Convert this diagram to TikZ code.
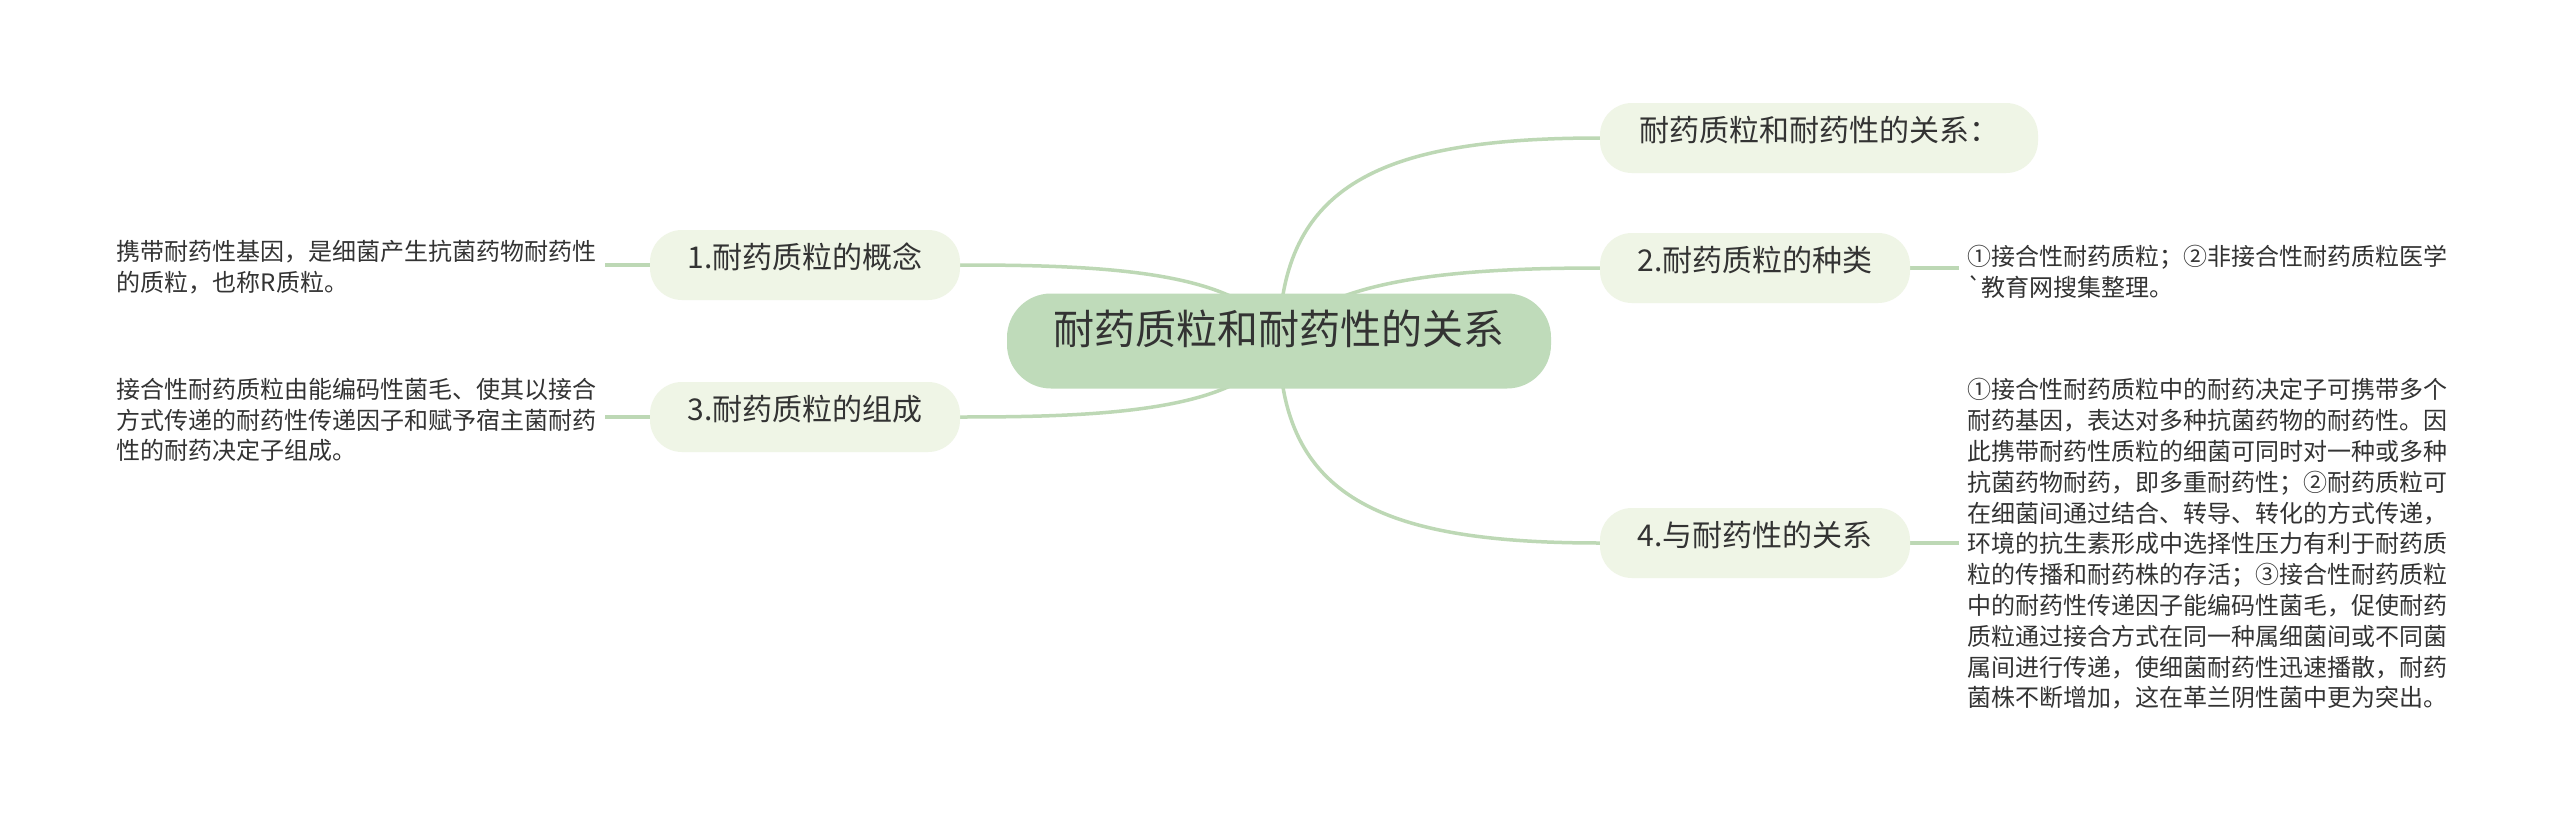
\documentclass[tikz,border=0pt]{standalone}
\usepackage{fontspec}
\newfontfamily\cjk{Noto Sans CJK SC}[Ligatures=TeXOff]
\usetikzlibrary{positioning}
\definecolor{rootfill}{HTML}{BFDBBA}
\definecolor{brfill}{HTML}{EFF5E6}
\definecolor{linkc}{HTML}{BDD8B5}
\definecolor{txt}{HTML}{333333}
\pgfdeclarelayer{back}
\pgfdeclarelayer{bg}
\pgfsetlayers{back,bg,main}
\begin{document}
\begin{tikzpicture}[x=1pt,y=-1pt,
  rootbox/.style={draw=none,fill=rootfill,rounded corners=44pt,minimum width=544pt,minimum height=95pt,
    inner xsep=0pt,inner ysep=0pt,text=txt,font=\cjk\fontsize{41}{48}\selectfont,text height=0.88em,text depth=0.12em},
  brbox/.style={draw=none,fill=brfill,rounded corners=32pt,minimum width=310pt,minimum height=70pt,
    inner xsep=0pt,inner ysep=0pt,text=txt,font=\cjk\fontsize{30}{36}\selectfont,text height=0.88em,text depth=0.12em},
  leafbox/.style={draw=none,inner xsep=8pt,inner ysep=4pt,align=left,text=txt,font=\cjk\fontsize{24}{30.8}\selectfont},
  link/.style={draw=linkc,line width=3.5pt},
]
\useasboundingbox (0,0) rectangle (2560,827);
\begin{pgfonlayer}{back}
\fill[white] (0,0) rectangle (2560,827);
\end{pgfonlayer}

\node[rootbox] (root) at (1279,341) {耐药质粒和耐药性的关系};

\node[brbox] (n1) at (805,265) {1.耐药质粒的概念};
\node[brbox] (n3) at (805,417) {3.耐药质粒的组成};
\node[brbox,minimum width=438pt] (n0) at (1819,138) {耐药质粒和耐药性的关系：};
\node[brbox] (n2) at (1755,268) {2.耐药质粒的种类};
\node[brbox] (n4) at (1755,543) {4.与耐药性的关系};

\node[leafbox,anchor=east] (l1) at (605,267) {携带耐药性基因，是细菌产生抗菌药物耐药性\\的质粒，也称R质粒。};
\node[leafbox,anchor=east] (l3) at (605,420) {接合性耐药质粒由能编码性菌毛、使其以接合\\方式传递的耐药性传递因子和赋予宿主菌耐药\\性的耐药决定子组成。};
\node[leafbox,anchor=west] (l2) at (1959,272) {①接合性耐药质粒；②非接合性耐药质粒医学\\`教育网搜集整理。};
\node[leafbox,anchor=west] (l4) at (1959,544) {①接合性耐药质粒中的耐药决定子可携带多个\\耐药基因，表达对多种抗菌药物的耐药性。因\\此携带耐药性质粒的细菌可同时对一种或多种\\抗菌药物耐药，即多重耐药性；②耐药质粒可\\在细菌间通过结合、转导、转化的方式传递，\\环境的抗生素形成中选择性压力有利于耐药质\\粒的传播和耐药株的存活；③接合性耐药质粒\\中的耐药性传递因子能编码性菌毛，促使耐药\\质粒通过接合方式在同一种属细菌间或不同菌\\属间进行传递，使细菌耐药性迅速播散，耐药\\菌株不断增加，这在革兰阴性菌中更为突出。};

\begin{pgfonlayer}{bg}
\draw[link] (root.center) .. controls (1250,270) and (1100,265) .. (n1.east);
\draw[link] (root.center) .. controls (1250,412) and (1100,417) .. (n3.east);
\draw[link] (root.center) .. controls (1281,185) and (1380,138) .. (n0.west);
\draw[link] (root.center) .. controls (1320,280) and (1450,268) .. (n2.west);
\draw[link] (root.center) .. controls (1281,497) and (1380,543) .. (n4.west);
\draw[link] (n1.west) -- (n1.west -| l1.east);
\draw[link] (n3.west) -- (n3.west -| l3.east);
\draw[link] (n2.east) -- (n2.east -| l2.west);
\draw[link] (n4.east) -- (n4.east -| l4.west);
\end{pgfonlayer}
\end{tikzpicture}
\end{document}
